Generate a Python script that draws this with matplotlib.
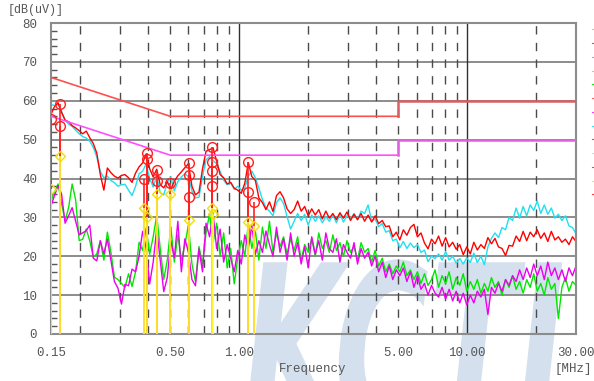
import numpy as np
import matplotlib
matplotlib.use('Agg')
import matplotlib.pyplot as plt
from matplotlib.ticker import MultipleLocator, NullLocator
from matplotlib.textpath import TextPath
from matplotlib.patches import PathPatch
from matplotlib.font_manager import FontProperties
from matplotlib.transforms import Affine2D
from matplotlib.lines import Line2D

plt.rcParams['font.family'] = ['Liberation Mono', 'DejaVu Sans Mono']

# sweep frequencies [MHz]
trace_freq = np.geomspace(0.15, 30, 150)

# peak traces (dBuV)
red_trace = [
    56.5, 58.5, 59.5, 57.0, 55.0, 54.6, 53.6, 53.0, 52.3, 51.5,
    52.2, 50.5, 49.0, 46.5, 41.0, 37.0, 42.7, 41.5, 40.6, 40.1,
    40.8, 41.0, 40.2, 39.0, 41.4, 43.0, 44.0, 46.3, 42.5, 40.4,
    42.4, 38.4, 37.6, 39.2, 37.2, 39.3, 40.7, 41.7, 42.8, 43.8,
    38.0, 35.8, 36.5, 42.5, 47.0, 47.4, 47.9, 44.5, 41.0, 40.2,
    38.6, 39.0, 37.5, 37.0, 36.2, 38.8, 44.1, 40.5, 39.5, 35.0,
    33.8, 32.0, 34.0, 31.5, 35.6, 36.6, 35.0, 32.2, 31.0, 32.0,
    34.2, 31.6, 32.8, 30.4, 32.2, 30.6, 32.0, 29.6, 31.6, 29.8,
    31.0, 29.4, 31.2, 29.8, 31.4, 29.2, 30.8, 29.4, 31.0, 29.0,
    30.6, 28.8, 30.4, 28.4, 29.2, 27.6, 27.8, 25.0, 26.2, 24.2,
    26.8, 25.4, 27.4, 28.2, 25.0, 26.0, 23.4, 21.9, 24.4, 23.2,
    25.2, 22.6, 24.8, 22.4, 23.6, 21.8, 23.0, 20.4, 22.4, 20.6,
    23.6, 21.6, 23.0, 22.0, 24.8, 23.2, 24.6, 22.4, 22.0, 20.2,
    22.8, 22.6, 25.2, 23.8, 26.4, 24.0, 26.2, 25.0, 26.8, 24.6,
    26.0, 23.8, 26.4, 24.2, 25.0, 23.6, 24.4, 23.0, 25.0, 23.8,
]
cyan_trace = [
    59.0, 58.8, 59.0, 57.3, 55.0, 54.0, 53.4, 52.4, 51.5, 50.8,
    50.4, 49.6, 48.0, 45.5, 41.8, 40.2, 40.6, 39.5, 38.9, 38.0,
    38.4, 38.5, 37.0, 35.6, 38.0, 41.2, 41.9, 43.7, 40.0, 37.8,
    40.6, 36.3, 35.8, 39.0, 40.4, 36.8, 39.2, 40.4, 41.2, 40.5,
    36.8, 35.0, 35.2, 40.5, 44.8, 45.6, 44.6, 43.8, 41.8, 39.6,
    38.4, 38.9, 37.2, 38.0, 37.0, 37.6, 40.6, 41.9, 40.2, 37.5,
    34.6, 32.5, 31.6, 30.4, 33.8, 35.0, 33.6, 30.2, 27.0, 29.0,
    31.0, 29.2, 30.8, 28.0, 30.6, 29.0, 30.4, 28.6, 30.2, 29.0,
    30.6, 28.6, 30.8, 28.8, 30.4, 29.6, 31.0, 29.4, 31.6, 31.0,
    33.2, 29.0, 29.6, 27.6, 28.4, 26.2, 26.6, 24.0, 24.4, 22.2,
    23.8, 22.0, 23.4, 22.2, 23.0, 21.0, 21.6, 18.6, 20.0, 19.4,
    20.6, 19.0, 21.2, 19.0, 20.0, 18.2, 19.4, 18.0, 19.6, 18.4,
    20.8, 18.4, 20.0, 17.8, 22.4, 24.6, 26.0, 24.8, 27.4, 26.8,
    30.0, 29.2, 32.4, 29.8, 32.8, 30.4, 33.2, 31.8, 34.2, 31.0,
    33.2, 30.8, 32.4, 29.8, 30.8, 29.2, 30.4, 27.8, 27.4, 25.8,
]
green_trace = [
    34.3, 36.5, 38.6, 33.5, 29.2, 32.5, 38.6, 34.5, 24.0, 24.4,
    27.0, 24.0, 19.8, 20.6, 24.0, 19.0, 26.2, 21.0, 14.6, 14.0,
    13.0, 12.0, 15.5, 12.2, 16.0, 23.6, 21.5, 27.3, 20.5, 25.0,
    30.5, 22.0, 14.0, 19.0, 27.5, 18.5, 25.5, 19.0, 23.0, 28.0,
    18.0, 13.5, 22.5, 18.0, 26.0, 31.0, 23.5, 28.5, 20.0, 26.0,
    17.0, 22.0, 12.9, 19.5, 24.0, 20.0, 28.5, 22.0, 26.5, 19.0,
    27.5, 22.0, 29.0, 21.0, 26.0, 22.5, 25.0, 20.5, 24.5, 21.5,
    25.0, 19.0, 23.0, 21.0, 24.5, 20.0, 26.0, 22.0, 24.0, 21.0,
    25.5, 21.5, 23.5, 20.0, 24.0, 21.0, 22.5, 19.0, 23.5, 21.0,
    22.0, 18.5, 21.5, 17.5, 19.5, 16.0, 18.0, 15.5, 17.5, 16.0,
    18.5, 15.0, 16.5, 14.0, 16.0, 13.0, 15.5, 12.5, 14.0, 16.5,
    12.0, 15.0, 13.0, 16.0, 11.5, 14.5, 12.5, 15.5, 11.0, 13.5,
    11.5, 14.0, 10.5, 13.0, 11.0, 14.5, 12.0, 13.5, 10.0, 14.0,
    12.0, 15.0, 11.5, 13.5, 10.5, 14.0, 12.0, 15.5, 11.0, 13.0,
    10.0, 14.5, 11.5, 13.0, 4.0, 12.0, 14.5, 11.0, 13.5, 12.5,
]
magenta_trace = [
    33.0, 35.6, 38.2, 36.0, 28.5, 30.4, 32.5, 29.0, 25.5, 26.0,
    26.6, 28.0, 19.5, 18.8, 24.0, 20.6, 24.4, 19.0, 13.5, 11.8,
    7.7, 12.8, 12.4, 16.7, 16.0, 20.0, 26.4, 22.0, 12.9, 18.5,
    27.0, 19.0, 10.9, 14.5, 24.0, 19.6, 29.0, 16.0, 24.5, 21.0,
    14.0, 12.4, 21.9, 16.0, 28.5, 25.0, 31.0, 22.0, 27.0, 18.5,
    23.0, 19.5, 16.0, 21.5, 18.0, 25.5, 22.0, 28.0, 20.5, 24.0,
    21.0, 26.5, 23.0, 20.0, 27.5, 21.0, 24.5, 19.0, 26.0, 20.0,
    23.5, 18.0, 22.5, 17.0, 25.0, 20.5, 24.0, 19.0, 26.0, 22.0,
    21.0, 24.5, 18.5, 23.0, 21.0, 19.5, 23.5, 18.0, 22.0, 19.5,
    21.0, 17.5, 20.0, 16.0, 18.5, 14.5, 17.5, 14.0, 16.5, 15.0,
    17.0, 13.5, 16.0, 12.0, 15.0, 11.5, 13.0, 10.0, 12.5, 10.5,
    9.5, 12.0, 9.0, 11.5, 8.5, 11.0, 8.0, 10.5, 7.5, 10.0,
    8.0, 11.0, 9.5, 11.5, 5.0, 12.0, 10.5, 13.0, 11.0, 14.0,
    12.5, 15.0, 13.5, 16.5, 14.0, 17.0, 14.5, 18.0, 15.0, 17.5,
    14.0, 18.5, 15.0, 17.0, 14.0, 16.5, 13.5, 17.0, 15.0, 17.5,
]

# limit lines
qp_limit_freq = [0.15, 0.5, 5.0]
qp_limit_level = [66, 56, 56]
qp_limit2_freq = [5.0, 5.0, 30.0]
qp_limit2_level = [56, 60, 60]
av_limit_freq = [0.15, 0.5, 5.0]
av_limit_level = [56, 46, 46]
av_limit2_freq = [5.0, 5.0, 30.0]
av_limit2_level = [46, 50, 50]

# final measurements
qp_freq = [0.150, 0.165, 0.165, 0.384, 0.397, 0.397, 0.435, 0.435, 0.498,
           0.601, 0.601, 0.601, 0.762, 0.762, 0.762, 0.762, 1.10, 1.10, 1.16]
qp_level = [55.2, 59.1, 53.6, 39.8, 46.6, 44.9, 42.3, 39.4, 38.9,
            43.9, 40.9, 35.3, 48.2, 44.3, 42.0, 38.1, 44.3, 36.5, 34.0]
av_freq = [0.150, 0.165, 0.384, 0.397, 0.435, 0.498, 0.601, 0.762, 0.770, 1.10, 1.16]
av_level = [37.2, 45.8, 32.4, 30.1, 35.9, 36.1, 29.4, 32.3, 30.8, 28.8, 27.7]

x_ticks = [0.15, 0.5, 1.0, 5.0, 10.0, 30.0]
x_tick_labels = ['0.15', '0.50', '1.00', '5.00', '10.00', '30.00']

W, H = 594, 381
fig = plt.figure(figsize=(W / 100, H / 100), dpi=100)
fig.patch.set_facecolor('white')

# KCTL watermark behind the plot
wm = TextPath((0, 0), 'KCTL', size=100,
              prop=FontProperties(family='DejaVu Sans', weight='bold', style='italic'))
ext = wm.get_extents()
sx = 345 / ext.width
sy = 168 / 73.0
tr = Affine2D().translate(-ext.x0, 0).scale(sx, sy).translate(245, -49)
fig.add_artist(PathPatch(wm, facecolor='#d4e0ee', edgecolor='none', transform=tr, zorder=-5))

ax = fig.add_axes([51 / W, 47 / H, 525 / W, 311 / H])
ax.patch.set_visible(False)
ax.set_xscale('log')
ax.set_xlim(0.15, 30)
ax.set_ylim(0, 80)

# grid
for v in range(10, 80, 10):
    ax.axhline(v, color='#8c8c8c', lw=1.4, zorder=1)
for f in [0.2, 0.3, 0.4, 0.5, 0.6, 0.7, 0.8, 0.9, 2, 3, 4, 5, 6, 7, 8, 9, 20]:
    ax.axvline(f, color='#4a4a4a', lw=1.0, ls=(0, (6, 6)), zorder=1)
for f in [1, 10]:
    ax.axvline(f, color='#303030', lw=1.0, zorder=1)

# traces
ax.plot(trace_freq, green_trace, color='#00e800', lw=1.0, zorder=2)
ax.plot(trace_freq, magenta_trace, color='#ee00ee', lw=1.0, zorder=2)
ax.plot(trace_freq, cyan_trace, color='#20e0f0', lw=1.0, zorder=2)
ax.plot(trace_freq, red_trace, color='#ff0000', lw=1.0, zorder=2)

# limits
ax.plot(qp_limit_freq, qp_limit_level, color='#ff5050', lw=1.2, zorder=3)
ax.plot(qp_limit2_freq, qp_limit2_level, color='#d86060', lw=1.8, zorder=3)
ax.plot(av_limit_freq, av_limit_level, color='#ff50ff', lw=1.2, zorder=3)
ax.plot(av_limit2_freq, av_limit2_level, color='#e060e0', lw=1.8, zorder=3)

# measurement markers
ax.vlines(qp_freq, 0, qp_level, colors='#ff2020', lw=1.2, zorder=5)
ax.plot(qp_freq, qp_level, 'o', mfc='none', mec='#ff2020', ms=7, mew=1.0, zorder=6)
ax.vlines(av_freq, 0, av_level, colors='#ffff30', lw=1.2, zorder=7)
ax.plot(av_freq, av_level, 'D', mfc='none', mec='#f0e000', ms=5, mew=1.0, zorder=8)

# axes styling
for s in ax.spines.values():
    s.set_color('#8c8c8c')
    s.set_linewidth(1.5)
ax.set_xticks(x_ticks)
ax.set_xticklabels(x_tick_labels)
ax.xaxis.set_minor_locator(NullLocator())
ax.set_yticks(range(0, 90, 10))
ax.yaxis.set_minor_locator(MultipleLocator(2))
ax.tick_params(axis='x', which='both', length=0, pad=9, labelsize=9, labelcolor='#555555')
ax.tick_params(axis='y', which='major', length=0, pad=10, labelsize=9, labelcolor='#555555')
ax.tick_params(axis='y', which='minor', direction='in', length=4, width=1, color='#555555')

fig.text(8 / W, 1 - 10 / H, '[dB(uV)]', fontsize=8.5, color='#555555', va='center', ha='left')
fig.text(313 / W, 1 - 369 / H, 'Frequency', fontsize=9, color='#555555', va='center', ha='center')
fig.text(592 / W, 1 - 369 / H, '[MHz]', fontsize=9, color='#555555', va='center', ha='right')

# clipped legend symbols at the right edge
legend_y = [29, 43, 57, 71, 84, 98, 112, 126, 139, 153, 167, 181, 194]
legend_c = ['#f0c060', '#ff4040', '#e080f0', '#f0c060', '#20e020', '#ff6060', '#ff40ff',
            '#40e0f0', '#ff4040', '#a0f0f0', '#ff4040', '#f0f000', '#ff4040']
for y, c in zip(legend_y, legend_c):
    fig.add_artist(Line2D([592 / W, 594 / W], [1 - y / H] * 2, color=c, lw=0.8,
                          transform=fig.transFigure))

fig.savefig('out.png', dpi=100)
